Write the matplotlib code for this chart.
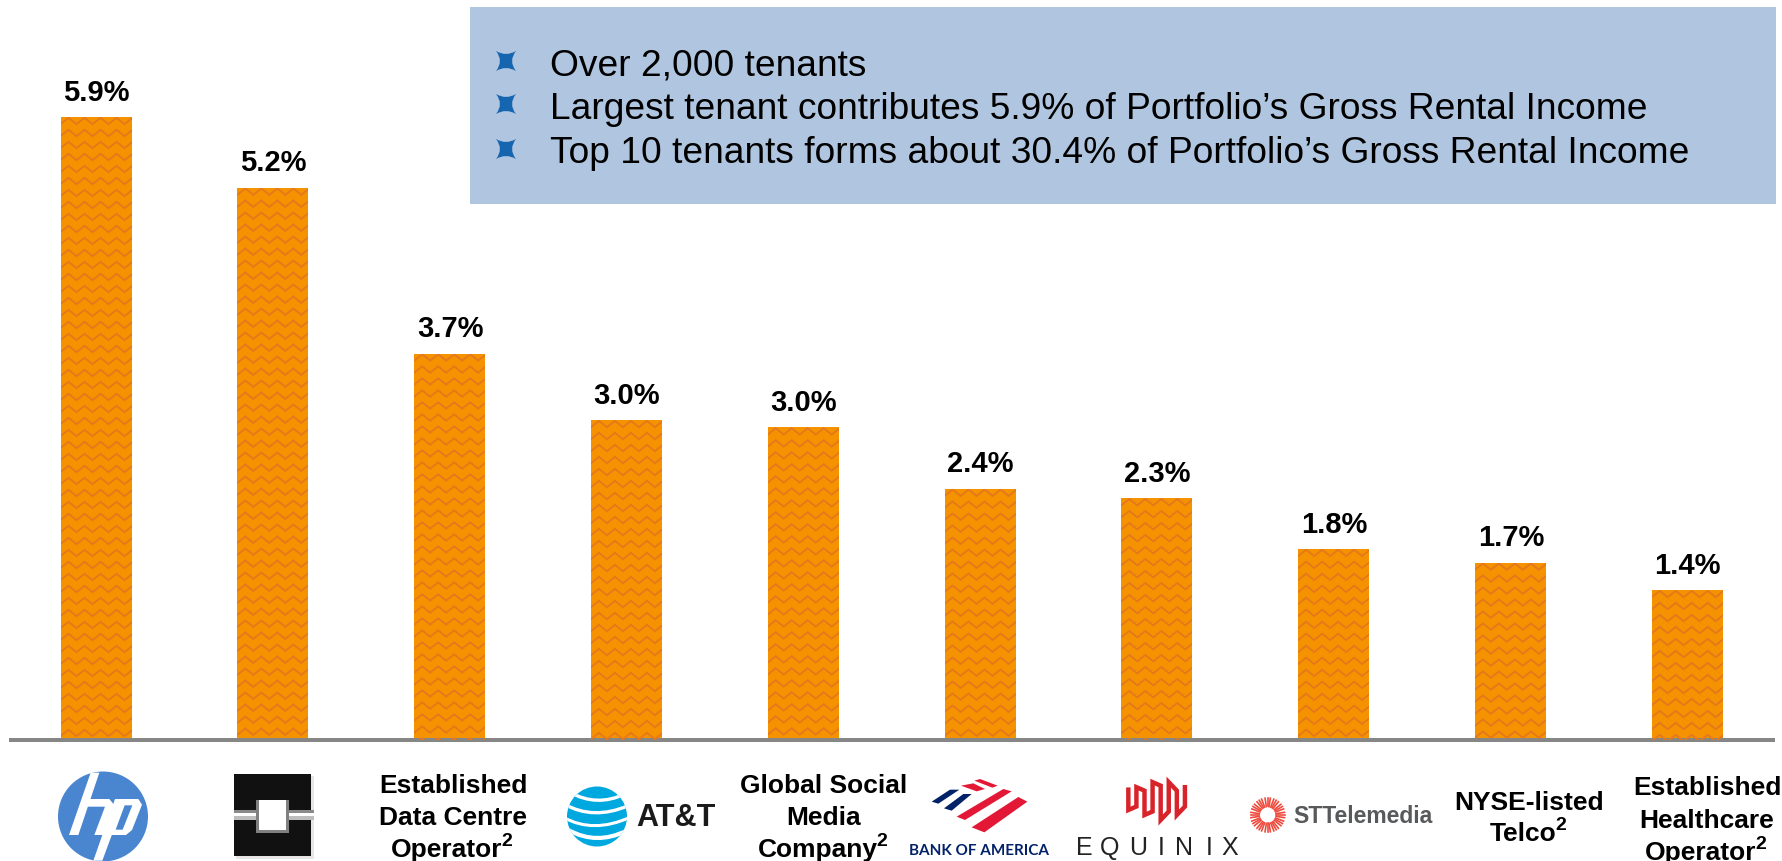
import numpy as np
import matplotlib
matplotlib.use("Agg")
import matplotlib.pyplot as plt
from matplotlib.patches import Circle, Rectangle, Polygon, PathPatch
from matplotlib.path import Path

plt.rcParams['font.family'] = ['Liberation Sans', 'DejaVu Sans']

values = [5.9, 5.23, 3.66, 3.03, 2.96, 2.38, 2.29, 1.81, 1.68, 1.42]
value_labels = ["5.9%", "5.2%", "3.7%", "3.0%", "3.0%", "2.4%", "2.3%", "1.8%", "1.7%", "1.4%"]
bullets = ["Over 2,000 tenants",
           "Largest tenant contributes 5.9% of Portfolio\u2019s Gross Rental Income",
           "Top 10 tenants forms about 30.4% of Portfolio\u2019s Gross Rental Income"]
tenant_names = {2: "Established\nData Centre\nOperator\u00b2",
                4: "Global Social\nMedia\nCompany\u00b2",
                8: "NYSE-listed\nTelco\u00b2",
                9: "Established\nHealthcare\nOperator\u00b2"}

W, H = 1783, 862
BASE = 741
X0, DX = 96.0, 176.8
PX_PER_UNIT = 105.6
ORANGE = "#f59200"
WAVE = "#e5781c"

fig = plt.figure(figsize=(W / 100, H / 100), dpi=100)
ax = fig.add_axes([0, 0, 1, 1])
ax.set_xlim(-X0 / DX, (W - X0) / DX)
ax.set_ylim(-(H - BASE) / PX_PER_UNIT, BASE / PX_PER_UNIT)
ax.axis("off")

bars = ax.bar(range(len(values)), values, width=71 / DX, color=ORANGE, linewidth=0)
for i, v in enumerate(values):
    ax.annotate(value_labels[i], (i, v), xytext=(0.3, 12.5), textcoords="offset points",
                ha="center", va="baseline", fontsize=21, fontweight="bold", color="black")

# overlay in pixel coordinates for the box, wave fill and logos
ov = fig.add_axes([0, 0, 1, 1], facecolor="none")
ov.set_xlim(0, W)
ov.set_ylim(H, 0)
ov.axis("off")

# wave pattern on bars
for i, (b, v) in enumerate(zip(bars, values)):
    left = X0 + DX * i - 35.5
    xs = np.arange(left - 8, left + 80, 8.0)
    offs = np.where(np.arange(len(xs)) % 2 == 0, -3.2, 3.2)
    for y in np.arange(BASE - v * PX_PER_UNIT + 4, BASE + 6, 12.0):
        ln, = ov.plot(xs, y + offs, color=WAVE, lw=1.3, solid_joinstyle="miter")
        ln.set_clip_path(b)

ov.add_patch(Rectangle((9, 739.3), 1766, 4, color="#868686", lw=0))

# info box
ov.add_patch(Rectangle((470, 8), 1306, 197, color="#b0c5df", lw=0))
for y, y_text, s in zip([62, 105, 150], [76, 119, 163], bullets):
    cx = 506
    verts = [(cx - 10, y - 10), (cx, y - 4), (cx + 10, y - 10), (cx + 2, y), (cx + 10, y + 10),
             (cx, y + 4), (cx - 10, y + 10), (cx - 2, y), (cx - 10, y - 10)]
    codes = [Path.MOVETO] + [Path.CURVE3] * 8
    ov.add_patch(PathPatch(Path(verts, codes), color="#1565b0", lw=0))
    ov.text(550, y_text, s, fontsize=26.7, va="baseline", ha="left", color="black")

# tenant names
name_pos = {2: (453, [786, 818, 850]), 4: (824, [786, 818, 850]),
            8: (1529, [803, 834]), 9: (1707, [788, 821, 853])}
for i, s in tenant_names.items():
    cx, ys = name_pos[i]
    for y, line in zip(ys, s.split("\n")):
        if line.endswith("\u00b2"):
            t = ov.text(cx - 6, y, line[:-1], fontsize=19, fontweight="bold", ha="center", va="center", color="black")
            ov.annotate("2", xy=(1.0, 0.5), xycoords=t, xytext=(-1, 0), textcoords="offset points",
                        fontsize=14, fontweight="bold", ha="left", va="bottom", color="black")
        else:
            ov.text(cx, y, line, fontsize=19, fontweight="bold", ha="center", va="center", color="black")


def zoom_poly(pts, ox, oy, color):
    ov.add_patch(Polygon([(ox + x / 3, oy + y / 3) for x, y in pts], color=color, lw=0))


# hp logo
ov.add_patch(Circle((103, 817.5), 45, color="#4a86cf", lw=0))
for pts in [[(122, 26), (148, 26), (85, 213), (57, 213)],
            [(112, 105), (178, 105), (192, 122), (160, 213), (133, 213), (165, 128), (105, 128)],
            [(195, 105), (265, 105), (276, 122), (246, 198), (228, 213), (185, 213), (192, 195),
             (157, 290), (130, 290)]]:
    zoom_poly(pts, 50, 765, "white")
zoom_poly([(224, 124), (247, 124), (218, 197), (197, 197)], 50, 765, "#4a86cf")

# black square logo
ov.add_patch(Rectangle((236, 777), 78, 83, color="#e6e6e6", lw=0))
ov.add_patch(Rectangle((234, 775), 77, 82, color="#111111", lw=0))
ov.add_patch(Rectangle((234, 811), 80, 3, color="#8a8a8a", lw=0))
ov.add_patch(Rectangle((234, 814), 80, 3.5, color="white", lw=0))
ov.add_patch(Rectangle((234, 817.5), 80, 3.5, color="#bdbdbd", lw=0))
ov.add_patch(Rectangle((255.7, 801), 33.3, 33, color="#808080", lw=0))
ov.add_patch(Rectangle((258.7, 801), 27.3, 30, color="white", lw=0))

# AT&T logo
globe = Circle((597, 817.5), 30, color="#00a8e0", lw=0)
ov.add_patch(globe)
for (a, b, c), w in zip([((30, 55), (110, 100), (195, 60)),
                         ((12, 90), (100, 140), (205, 95)),
                         ((10, 130), (100, 180), (210, 130)),
                         ((25, 168), (110, 215), (200, 170))], [2.4, 2.4, 2.2, 3.0]):
    verts = [(560 + p[0] / 3, 775 + p[1] / 3) for p in (a, b, c)]
    arc = PathPatch(Path(verts, [Path.MOVETO, Path.CURVE3, Path.CURVE3]),
                    fc="none", ec="white", lw=w)
    ov.add_patch(arc)
    arc.set_clip_path(globe)
ov.text(676, 818, "AT&T", fontsize=22, fontweight="bold", ha="center", va="center", color="#1a1a1a")

# Bank of America logo
for pts in [[(80, 98), (135, 62), (163, 62), (100, 104)],
            [(117, 118), (175, 75), (200, 75), (140, 125)]]:
    zoom_poly(pts, 905, 770, "#012169")
for pts in [[(168, 50), (205, 43), (240, 60), (215, 67)],
            [(208, 35), (225, 30), (278, 50), (262, 56)],
            [(155, 143), (295, 60), (320, 67), (180, 153)],
            [(200, 175), (340, 84), (367, 98), (238, 190)]]:
    zoom_poly(pts, 905, 770, "#e31837")
ov.text(979, 851, "BANK OF AMERICA", fontsize=11, fontweight="bold", family="Lato",
        ha="center", va="center", color="#012169")

# Equinix logo
cols = np.arange(175, 369, 24.25)
meander = []
for k, x in enumerate(cols):
    top = 32 + 30 * abs(x - 272) / 97
    bot = 153 - 30 * abs(x - 272) / 97
    if k % 2 == 0:
        meander += [(x, top + 18 if k else top), (x, bot)]
    else:
        meander += [(x, bot - 18), (x, top)]
ov.plot([1070 + p[0] / 3 for p in meander], [770 + p[1] / 3 for p in meander],
        color="#d9232a", lw=3.2, solid_joinstyle="miter")
for x, ch in zip([42, 118, 205, 275, 343, 417, 480], "EQUINIX"):
    ov.text(1070 + x / 3, 848, ch, fontsize=18, ha="center", va="center", color="#222222")

# STT logo
for ang in np.arange(0, 360, 30):
    for d in (-9, 0, 9):
        t = np.radians(ang + d)
        ov.plot([1267.7 + 8.5 * np.cos(t), 1267.7 + 17 * np.cos(t)],
                [816 + 8.5 * np.sin(t), 816 + 17 * np.sin(t)], color="#ef4a3c", lw=1.2)
ov.text(1363, 817, "STTelemedia", fontsize=16.5, fontweight="bold", ha="center", va="center", color="#58595b")

fig.savefig("out.png", dpi=100, facecolor="white")
